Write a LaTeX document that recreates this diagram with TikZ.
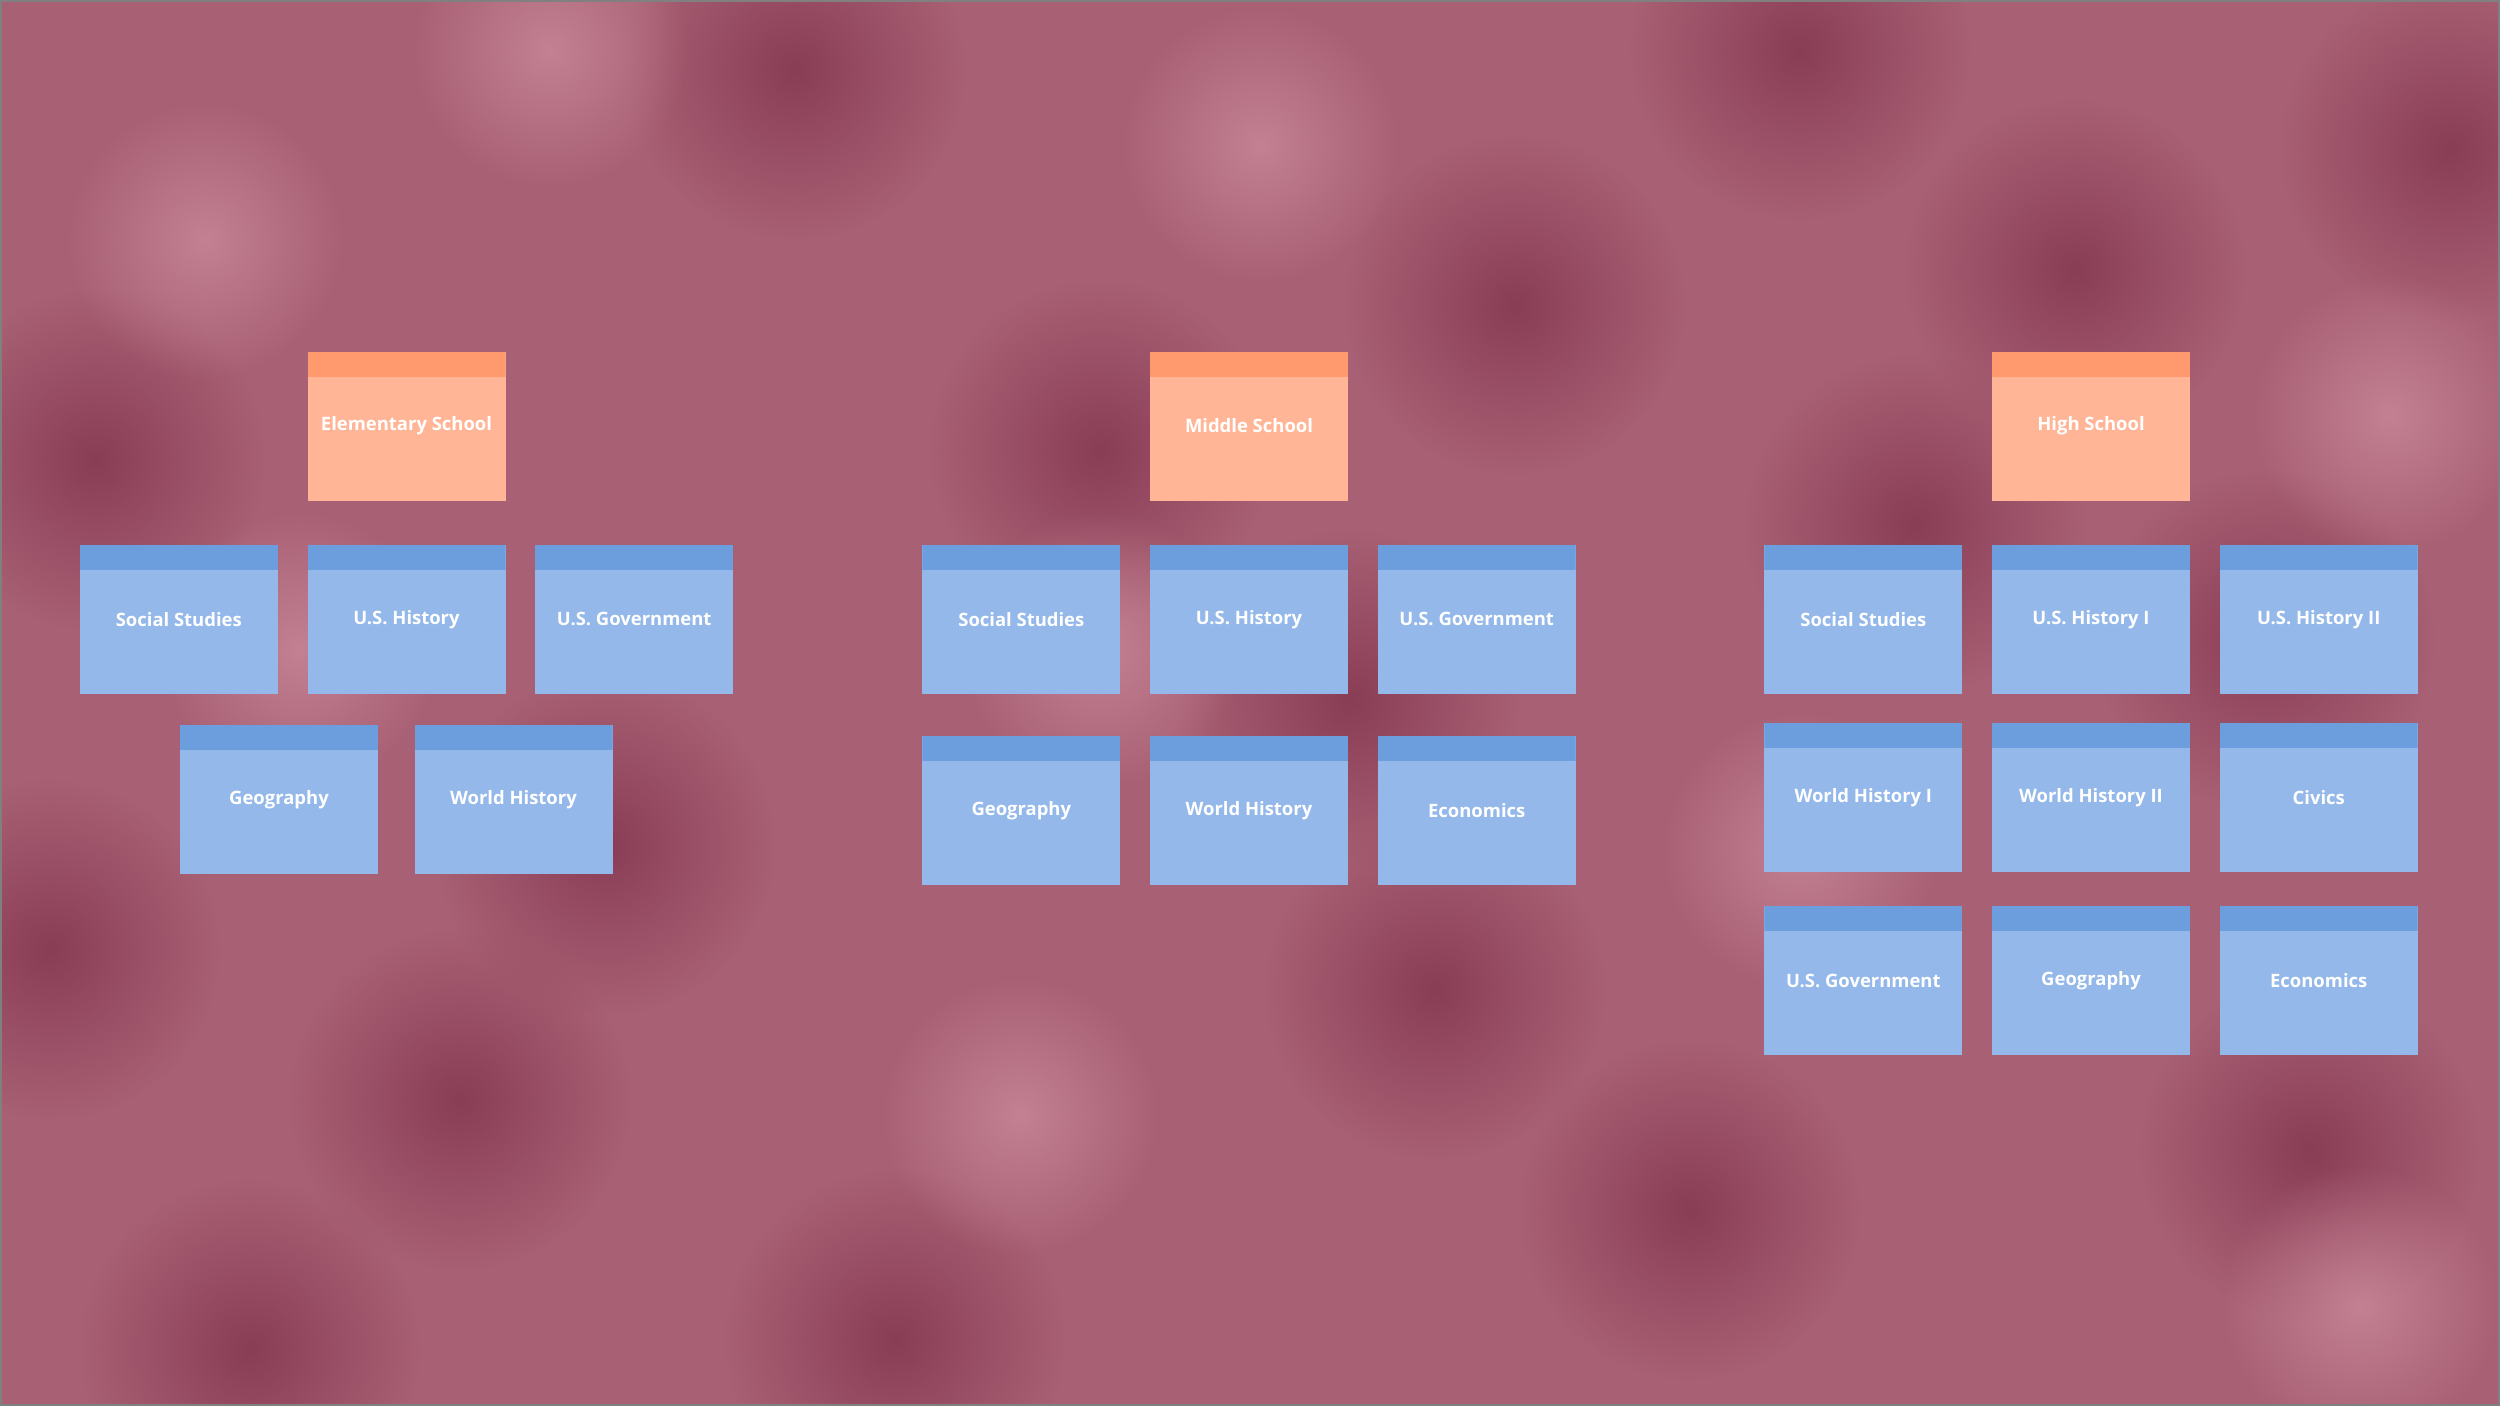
\documentclass[tikz,border=0pt]{standalone}
\usepackage{fontspec}
\setmainfont{Open Sans}
\usetikzlibrary{positioning,fadings}

\definecolor{bgmauve}{RGB}{168,96,116}
\definecolor{bgdark}{RGB}{128,50,76}
\definecolor{bglight}{RGB}{205,140,158}
\definecolor{cardblue}{RGB}{147,184,233}
\definecolor{cardbluetop}{RGB}{108,158,222}
\definecolor{cardorange}{RGB}{255,181,150}
\definecolor{cardorangetop}{RGB}{255,154,111}

\tikzfading[name=blobfade, inner color=transparent!0, outer color=transparent!100]

\tikzset{
  note/.style 2 args={rectangle, minimum width=3.96cm, minimum height=2.98cm,
    inner sep=0pt, fill=#1, text=white, font=\bfseries\fontsize{10.5}{12}\selectfont,
    path picture={\fill[#2] (path picture bounding box.north west)
      rectangle ([yshift=-0.5cm]path picture bounding box.north east);}},
  subject/.style={note={cardblue}{cardbluetop}},
  school/.style={note={cardorange}{cardorangetop}},
  blob/.style={path fading=blobfade, fill opacity=0.75}
}

\begin{document}
\begin{tikzpicture}[node distance=0.58cm]
  \useasboundingbox (0,0) rectangle (50,-28.12);
  \fill[bgmauve] (0,0) rectangle (50,-28.12);

  % foil texture
  \foreach \x/\y in {1.9/-9.2, 15.9/-1.4, 30.3/-6.1, 41.5/-5.4, 45.3/-12.8, 12.1/-16.9,
                     9.2/-22, 17.9/-26.8, 28.7/-19.8, 33.8/-24.2, 38.3/-10.5, 46.2/-23,
                     1/-19, 22/-9, 36/-1, 5/-27, 27/-14, 49/-3}
    \fill[bgdark, blob] (\x,\y) circle (3.4);
  \foreach \x/\y in {4.1/-4.8, 25.2/-2.9, 47.8/-8.3, 20.4/-22.3, 47.2/-26.1, 22/-13,
                     11/-1, 36/-17, 6/-13}
    \fill[bglight, blob] (\x,\y) circle (2.8);

  \draw[gray, line width=0.04cm] (0.02,-0.02) rectangle (49.98,-28.1);

  % elementary school
  \node[school] (elem) at (8.13,-8.52) {Elementary School};
  \node[subject, below=0.87cm of elem] (ehist) {U.S. History};
  \node[subject, left=of ehist] (esoc) {Social Studies};
  \node[subject, right=of ehist] (egov) {U.S. Government};
  \node[subject, below=0.62cm of ehist, xshift=-2.55cm] (egeo) {Geography};
  \node[subject, below=0.62cm of ehist, xshift=2.14cm] (eworld) {World History};

  % middle school
  \node[school] (mid) at (24.98,-8.52) {Middle School};
  \node[subject, below=0.87cm of mid] (mhist) {U.S. History};
  \node[subject, left=of mhist] (msoc) {Social Studies};
  \node[subject, right=of mhist] (mgov) {U.S. Government};
  \node[subject, below=0.84cm of mhist] (mworld) {World History};
  \node[subject, left=of mworld] (mgeo) {Geography};
  \node[subject, right=of mworld] (mecon) {Economics};

  % high school
  \node[school] (high) at (41.82,-8.52) {High School};
  \node[subject, below=0.87cm of high] (hhistone) {U.S. History I};
  \node[subject, left=of hhistone] (hsoc) {Social Studies};
  \node[subject, right=of hhistone] (hhisttwo) {U.S. History II};
  \node[subject, below=0.58cm of hhistone] (hworldtwo) {World History II};
  \node[subject, left=of hworldtwo] (hworldone) {World History I};
  \node[subject, right=of hworldtwo] (hcivics) {Civics};
  \node[subject, below=0.66cm of hworldtwo] (hgeo) {Geography};
  \node[subject, left=of hgeo] (hgov) {U.S. Government};
  \node[subject, right=of hgeo] (hecon) {Economics};
\end{tikzpicture}
\end{document}
